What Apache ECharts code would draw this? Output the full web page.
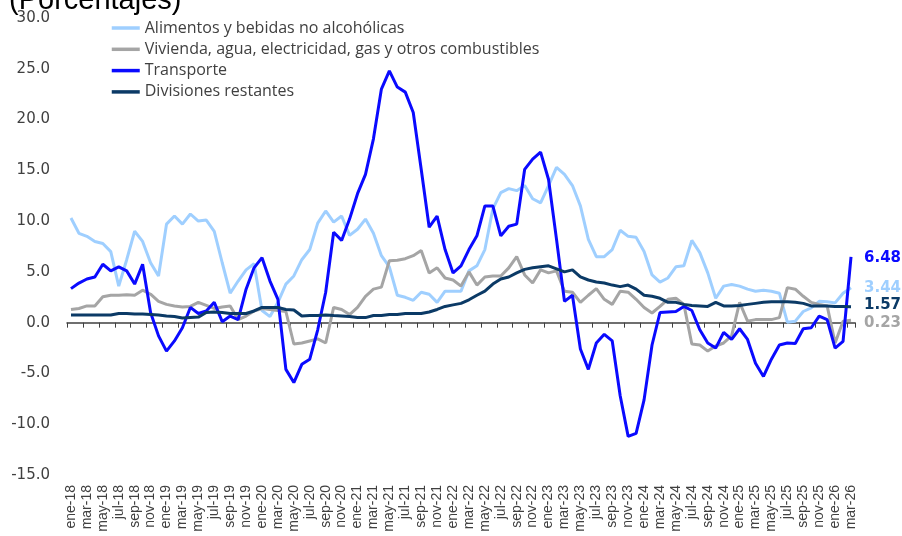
<!DOCTYPE html>
<html>
<head>
<meta charset="utf-8">
<script src="https://cdn.jsdelivr.net/npm/echarts@6/dist/echarts.min.js"></script>
<style>
  html, body { margin: 0; padding: 0; background: #fff; }
  #chart { width: 902px; height: 536px; }
</style>
</head>
<body>
<div id="chart"></div>
<script>
// meses ene-18 .. mar-26
const monthNames = ['ene', 'feb', 'mar', 'abr', 'may', 'jun', 'jul', 'ago', 'sep', 'oct', 'nov', 'dic'];
const years = ['18', '19', '20', '21', '22', '23', '24', '25', '26'];
const lastYearMonths = 3;

const yTicks = { min: -15, max: 30, step: 5 };

const alimentos = [
  10.3, 8.8, 8.5, 8.0, 7.8, 7.0, 3.6, 6.2, 9.0, 8.0, 5.9, 4.6,
  9.7, 10.5, 9.7, 10.7, 10.0, 10.1, 9.0, 5.9, 2.9, 4.1, 5.2, 5.8,
  1.2, 0.6, 2.0, 3.8, 4.6, 6.2, 7.2, 9.8, 11.0, 9.9, 10.5, 8.6,
  9.2, 10.2, 8.8, 6.6, 5.5, 2.7, 2.5, 2.2, 3.0, 2.8, 2.0, 3.1,
  3.1, 3.1, 5.1, 5.6, 7.2, 11.2, 12.8, 13.2, 13.0, 13.5, 12.2, 11.8,
  13.5, 15.3, 14.6, 13.5, 11.5, 8.2, 6.5, 6.5, 7.2, 9.1, 8.5, 8.4,
  7.0, 4.7, 4.0, 4.4, 5.5, 5.6, 8.1, 6.9, 4.9, 2.4, 3.6, 3.75,
  3.6, 3.3, 3.1, 3.2, 3.1, 2.9, 0.05, 0.15, 1.1, 1.45, 2.1, 2.05,
  1.95, 2.9, 3.44
];

const vivienda = [
  1.3, 1.4, 1.65, 1.65, 2.55, 2.7, 2.7, 2.75, 2.7, 3.2, 2.8, 2.1,
  1.8, 1.65, 1.55, 1.6, 2.0, 1.7, 1.4, 1.55, 1.65, 0.3, 0.65, 1.15,
  1.4, 1.3, 1.2, 1.1, -2.1, -2.0, -1.8, -1.6, -2.0, 1.5, 1.3, 0.8,
  1.5, 2.6, 3.3, 3.5, 6.1, 6.15, 6.3, 6.6, 7.1, 4.9, 5.4, 4.4,
  4.2, 3.6, 5.0, 3.7, 4.5, 4.6, 4.6, 5.4, 6.5, 4.7, 3.9, 5.2,
  4.9, 5.1, 3.1, 3.0, 2.0, 2.7, 3.35, 2.3, 1.8, 3.1, 3.0, 2.3,
  1.5, 0.95, 1.6, 2.3, 2.4, 1.8, -2.1, -2.2, -2.8, -2.3, -2.0, -1.3,
  2.0, 0.15, 0.3, 0.3, 0.3, 0.5, 3.45, 3.3, 2.6, 2.0, 1.8, 1.65,
  -2.0, 0.15, 0.23
];

const transporte = [
  3.35, 3.9, 4.3, 4.5, 5.75, 5.1, 5.5, 5.1, 3.8, 5.75, 1.0, -1.3,
  -2.8, -1.8, -0.5, 1.5, 0.9, 1.15, 2.0, 0.1, 0.65, 0.3, 3.3, 5.4,
  6.4, 4.1, 2.3, -4.6, -5.9, -4.1, -3.6, -0.7, 3.0, 8.9, 8.1, 10.2,
  12.7, 14.6, 18.1, 23.0, 24.8, 23.2, 22.7, 20.7, 15.1, 9.4, 10.5, 7.2,
  4.9, 5.6, 7.2, 8.55, 11.5, 11.5, 8.55, 9.5, 9.7, 15.1, 16.1, 16.8,
  14.1, 8.2, 2.1, 2.7, -2.6, -4.6, -2.0, -1.15, -1.8, -7.2, -11.2, -10.9,
  -7.6, -2.2, 1.0, 1.05, 1.1, 1.6, 1.2, -0.7, -2.0, -2.5, -0.95, -1.65,
  -0.6, -1.65, -4.0, -5.3, -3.6, -2.2, -2.0, -2.05, -0.6, -0.5, 0.65, 0.3,
  -2.5, -1.85, 6.48
];

const restantes = [
  0.75, 0.75, 0.75, 0.75, 0.75, 0.75, 0.9, 0.9, 0.85, 0.85, 0.8, 0.75,
  0.65, 0.6, 0.45, 0.5, 0.55, 1.0, 1.05, 1.0, 0.9, 0.9, 0.9, 1.15,
  1.5, 1.5, 1.5, 1.3, 1.25, 0.66, 0.7, 0.7, 0.75, 0.7, 0.66, 0.6,
  0.5, 0.5, 0.7, 0.7, 0.8, 0.8, 0.9, 0.9, 0.9, 1.05, 1.3, 1.6,
  1.75, 1.9, 2.25, 2.7, 3.1, 3.8, 4.3, 4.5, 4.9, 5.25, 5.4, 5.5,
  5.6, 5.3, 5.0, 5.2, 4.5, 4.2, 4.0, 3.9, 3.7, 3.55, 3.7, 3.3,
  2.7, 2.6, 2.4, 2.0, 2.0, 1.8, 1.7, 1.65, 1.6, 2.0, 1.65, 1.65,
  1.7, 1.8, 1.9, 2.0, 2.05, 2.05, 2.05, 2.0, 1.9, 1.65, 1.65, 1.65,
  1.6, 1.6, 1.57
];

const categories = [];
years.forEach((yy, k) => {
  const n = k === years.length - 1 ? lastYearMonths : 12;
  for (let m = 0; m < n; m++) categories.push(monthNames[m] + '-' + yy);
});

const textFont = 'Open Sans';
const numFont = 'DejaVu Sans';
const labelColor = '#404040';

function lineSeries(name, data, color, labelOffset) {
  return {
    name: name,
    type: 'line',
    data: data,
    xAxisIndex: 0,
    symbol: 'none',
    lineStyle: { width: 3, color: color },
    itemStyle: { color: color },
    endLabel: {
      show: true,
      distance: 13,
      offset: labelOffset,
      formatter: p => p.value.toFixed(2),
      color: color,
      fontFamily: numFont,
      fontWeight: 'bold',
      fontSize: 15
    }
  };
}

const chart = echarts.init(document.getElementById('chart'));
chart.setOption({
  animation: false,
  backgroundColor: '#fff',
  graphic: [{
    type: 'text',
    left: 9,
    top: -14,
    style: { text: '(Porcentajes)', font: '29px "Liberation Sans"', fill: '#000' }
  }],
  legend: {
    orient: 'vertical',
    left: 110,
    top: 20,
    padding: 0,
    itemWidth: 28,
    itemHeight: 16,
    itemGap: 5.3,
    itemStyle: { opacity: 0 },
    lineStyle: { width: 3.5 },
    textStyle: { fontFamily: textFont, fontSize: 16, color: labelColor }
  },
  grid: { left: 67, right: 47, top: 18, bottom: 61 },
  xAxis: [{
    type: 'category',
    data: categories,
    boundaryGap: true,
    axisLine: { onZero: true, lineStyle: { color: '#404040', width: 1.5 } },
    axisTick: { show: true, interval: 1, length: 5, lineStyle: { color: '#404040' } },
    axisLabel: { show: false },
    splitLine: { show: false }
  }, {
    type: 'category',
    data: categories,
    position: 'bottom',
    boundaryGap: true,
    axisLine: { show: false, onZero: false },
    axisTick: { show: false },
    axisLabel: {
      interval: 1,
      rotate: 90,
      margin: 10,
      fontFamily: 'Liberation Sans',
      fontSize: 14,
      color: labelColor
    },
    splitLine: { show: false }
  }],
  yAxis: {
    type: 'value',
    min: yTicks.min,
    max: yTicks.max,
    interval: yTicks.step,
    axisLine: { show: false },
    axisTick: { show: false },
    splitLine: { show: false },
    axisLabel: {
      margin: 17,
      formatter: v => v.toFixed(1),
      fontFamily: numFont,
      fontSize: 15,
      color: labelColor
    }
  },
  series: [
    lineSeries('Alimentos y bebidas no alcohólicas', alimentos, '#9fcfff', [0, 0]),
    lineSeries('Vivienda, agua, electricidad, gas y otros combustibles', vivienda, '#a5a5a5', [0, 3]),
    lineSeries('Transporte', transporte, '#0a0aff', [0, 1]),
    lineSeries('Divisiones restantes', restantes, '#0b3a66', [0, -2])
  ]
});
</script>
</body>
</html>
